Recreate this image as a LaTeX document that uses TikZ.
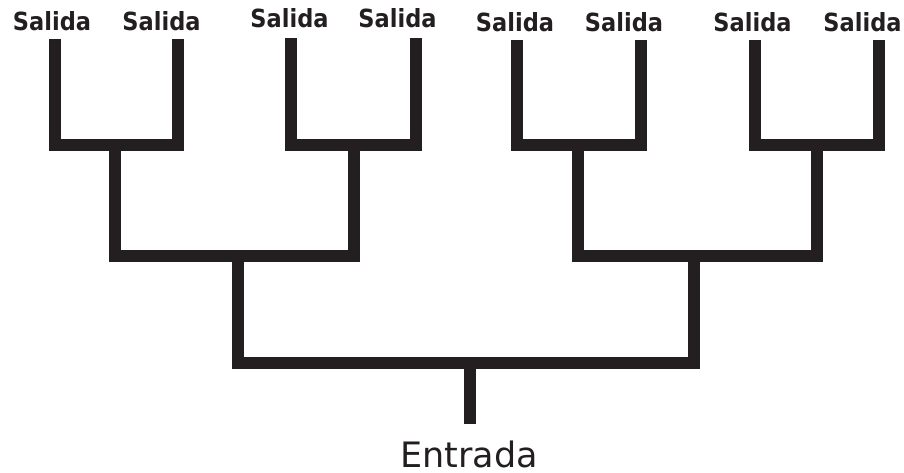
\documentclass[tikz,border=0pt]{standalone}
\usepackage{fontspec}
\setmainfont{DejaVu Sans}
\newfontfamily\salfont[FakeStretch=0.9]{DejaVu Sans Bold}
\definecolor{ink}{HTML}{231F20}
\begin{document}
\begin{tikzpicture}[x=1pt,y=-1pt,
  wire/.style={draw=ink,line width=12pt,line join=miter,line cap=butt},
  outlabel/.style={inner sep=0pt,anchor=base,text=ink,font=\salfont\fontsize{25}{25}\selectfont},
  inlabel/.style={inner sep=0pt,anchor=base,text depth=0pt,text=ink,font=\fontsize{35}{36}\selectfont}]
\useasboundingbox (0,0) rectangle (904,473);
% labels
\node[outlabel] (s1) at (52,31) {Salida};
\node[outlabel] (s2) at (161.5,31) {Salida};
\node[outlabel] (s3) at (289.5,28) {Salida};
\node[outlabel] (s4) at (397.5,28) {Salida};
\node[outlabel] (s5) at (515,31.5) {Salida};
\node[outlabel] (s6) at (624,31.5) {Salida};
\node[outlabel] (s7) at (752.5,32) {Salida};
\node[outlabel] (s8) at (862.5,32) {Salida};
\node[inlabel] (in) at (469,467.5) {Entrada};
% leaf tops
\coordinate (l1) at (55,39);
\coordinate (l2) at (178,39);
\coordinate (l3) at (291,38);
\coordinate (l4) at (416,38);
\coordinate (l5) at (517,40);
\coordinate (l6) at (641,40);
\coordinate (l7) at (755,40);
\coordinate (l8) at (879,40);
% junctions
\coordinate (a1) at (115,145);
\coordinate (a2) at (354,145);
\coordinate (a3) at (578,145);
\coordinate (a4) at (817,145);
\coordinate (b1) at (238,256);
\coordinate (b2) at (694,256);
\coordinate (c) at (470,363);
\coordinate (root) at (470,424);
% level 1
\draw[wire] (l1) |- (a1) -| (l2);
\draw[wire] (l3) |- (a2) -| (l4);
\draw[wire] (l5) |- (a3) -| (l6);
\draw[wire] (l7) |- (a4) -| (l8);
% level 2
\draw[wire] (a1) |- (b1) -| (a2);
\draw[wire] (a3) |- (b2) -| (a4);
% level 3
\draw[wire] (b1) |- (c) -| (b2);
\draw[wire] (c) -- (root);
\end{tikzpicture}
\end{document}
